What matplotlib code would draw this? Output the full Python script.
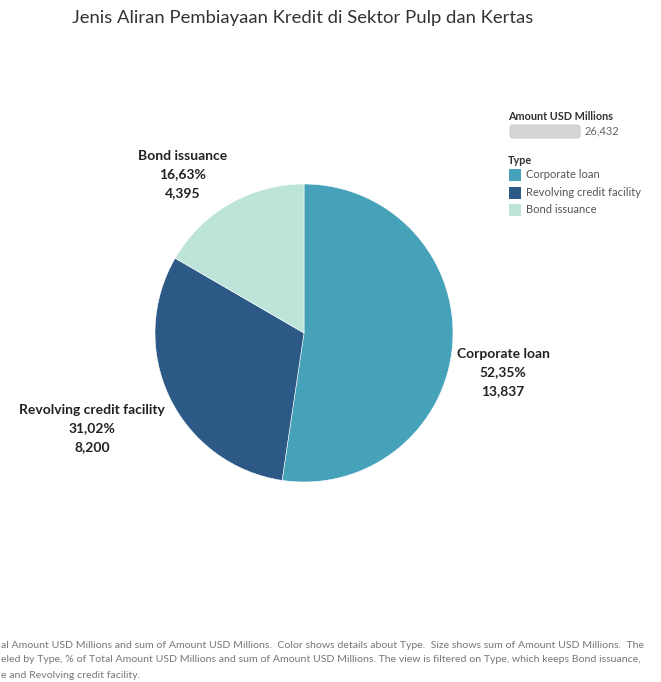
import matplotlib
matplotlib.use('Agg')
import matplotlib.pyplot as plt
from matplotlib.patches import FancyBboxPatch, Rectangle

# data
types = ['Corporate loan', 'Revolving credit facility', 'Bond issuance']
amounts = [13837, 8200, 4395]
pct_labels = ['52,35%', '31,02%', '16,63%']
colors = ['#46a2b9', '#2c5985', '#bce4d9']
total_label = '26,432'

W, H = 661, 682
fig = plt.figure(figsize=(W / 100, H / 100), dpi=100)
plt.rcParams['font.family'] = ['Lato', 'DejaVu Sans']


def fx(px):
    return px / W


def fy(py):
    return 1 - py / H


# pie axes
cx, cy, r = 304, 333, 149
ax = fig.add_axes([fx(cx - r), fy(cy + r), 2 * r / W, 2 * r / H])
ax.pie(amounts, colors=colors, startangle=90, counterclock=False,
       wedgeprops=dict(linewidth=0.4, edgecolor='white'))
ax.set_aspect('auto')
ax.set_xlim(-1, 1)
ax.set_ylim(-1, 1)

fig.text(0.458, fy(18), 'Jenis Aliran Pembiayaan Kredit di Sektor Pulp dan Kertas',
         ha='center', va='center', fontsize=13.3, color='#333333')

# slice labels
label_pos = {
    'Corporate loan': (503, 354),
    'Revolving credit facility': (92, 410),
    'Bond issuance': (183, 156),
}
for t, a, p in zip(types, amounts, pct_labels):
    x, y = label_pos[t]
    for i, s in enumerate([t, p, f'{a:,}']):
        fig.text(fx(x), fy(y + i * 18.5), s, ha='center', va='center',
                 fontsize=10, fontweight='bold', color='#222222')

# legend
fig.text(fx(508), fy(117), 'Amount USD Millions', ha='left', va='center',
         fontsize=7.8, fontweight='bold', color='#333333')
bar = FancyBboxPatch((fx(510), fy(138)), fx(70), 13 / H,
                     boxstyle='round,pad=0,rounding_size=0.004',
                     transform=fig.transFigure, facecolor='#d6d6d6',
                     edgecolor='#c4c4c4', linewidth=0.6)
fig.patches.append(bar)
fig.text(fx(585), fy(131), total_label, ha='left', va='center',
         fontsize=8, color='#666666')
fig.text(fx(508), fy(160), 'Type', ha='left', va='center',
         fontsize=7.8, fontweight='bold', color='#333333')
for i, (t, c) in enumerate(zip(types, colors)):
    yy = 175 + i * 17.5
    fig.patches.append(Rectangle((fx(509), fy(yy + 6)), 12 / W, 12 / H,
                                 transform=fig.transFigure, facecolor=c,
                                 edgecolor='none'))
    fig.text(fx(526), fy(yy), t, ha='left', va='center',
             fontsize=8, color='#555555')

# footer
footer = [
    'al Amount USD Millions and sum of Amount USD Millions.  Color shows details about Type.  Size shows sum of Amount USD Millions.  The',
    'eled by Type, % of Total Amount USD Millions and sum of Amount USD Millions. The view is filtered on Type, which keeps Bond issuance,',
    'e and Revolving credit facility.',
]
for i, line in enumerate(footer):
    fig.text(fx(1), fy(645 + i * 15), line, ha='left', va='center',
             fontsize=7.55, color='#777777')

fig.savefig('out.png', dpi=100, facecolor='white')
